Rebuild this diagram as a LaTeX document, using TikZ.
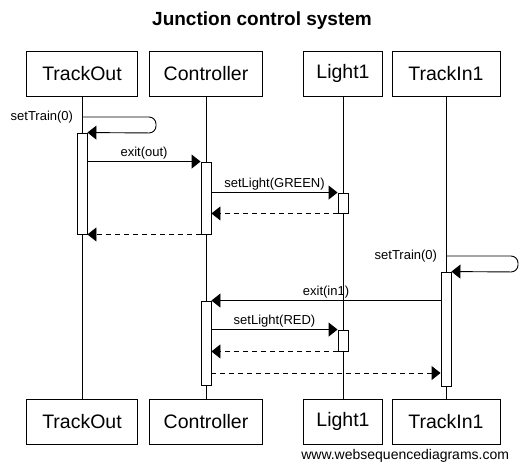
\documentclass[tikz,border=0pt]{standalone}
\usepackage{fontspec}
\setmainfont{Liberation Sans}
\usetikzlibrary{arrows.meta,positioning}

\begin{document}
\begin{tikzpicture}[x=1pt, y=-1pt, line width=0.9pt,
  >={Triangle[length=9pt,width=14pt]},
  obj/.style={draw, fill=white, minimum height=45pt, inner sep=0pt, font=\fontsize{19.5}{22}\selectfont},
  act/.style={draw, fill=white, minimum width=10pt, inner sep=0pt},
  msg/.style={->},
  ret/.style={->, dash pattern=on 5pt off 4pt},
  lbl/.style={font=\fontsize{13}{15}\selectfont, inner sep=1.5pt}]
\useasboundingbox (0,0) rectangle (529,469);
\node[font=\bfseries\fontsize{19}{22}\selectfont] (title) at (262,21) {Junction control system};
% participants
\node[obj, minimum width=111pt] (to) at (82,73.5) {TrackOut};
\node[obj, minimum width=113pt] (co) at (206,73.5) {Controller};
\node[obj, minimum width=79pt] (li) at (343,73.5) {Light1};
\node[obj, minimum width=108pt] (ti) at (446,73.5) {TrackIn1};
\node[obj, minimum width=111pt] (tob) at (82,421.5) {TrackOut};
\node[obj, minimum width=113pt] (cob) at (206,421.5) {Controller};
\node[obj, minimum width=79pt] (lib) at (343,421.5) {Light1};
\node[obj, minimum width=108pt] (tib) at (446,421.5) {TrackIn1};
\node[lbl, anchor=east, font=\fontsize{14}{16}\selectfont] (web) at (511,456) {www.websequencediagrams.com};
\draw (to) -- (tob); \draw (co) -- (cob);
\draw (li) -- (lib); \draw (ti) -- (tib);
% activations
\node[act, minimum height=101pt] (a1) at (82,183.5) {};
\node[act, minimum height=72pt] (c1) at (206,198) {};
\node[act, minimum height=20pt] (g1) at (343,203) {};
\node[act, minimum height=114pt] (t1) at (446,329) {};
\node[act, minimum height=84pt] (c2) at (206,343) {};
\node[act, minimum height=21pt] (r1) at (343,340.5) {};
\coordinate (s1) at (82,117);
\coordinate (s2) at (446,256);
\coordinate (d9) at (211,373);
% messages
\draw[msg, rounded corners=7pt] (s1) node[lbl, left=7pt] (l1) {setTrain(0)}
  -- ++(74,0) -- ++(0,16) -- (a1.north east);
\draw[msg] (a1.east |- c1.north) -- node[lbl, above] (l2) {exit(out)} (c1.north west);
\draw[msg] (c1.east |- g1.north) -- node[lbl, above] (l3) {setLight(GREEN)} (g1.north west);
\draw[ret] (g1.south west) -- (c1.east |- g1.south);
\draw[ret] (c1.south west) -- (a1.south east);
\draw[msg, rounded corners=7pt] (s2) node[lbl, left=7pt] (l4) {setTrain(0)}
  -- ++(72,0) -- ++(0,16) -- (t1.north east);
\draw[msg] (t1.west |- c2.north) -- node[lbl, above] (l5) {exit(in1)} (c2.north east);
\draw[msg] (c2.east |- r1.north) -- node[lbl, above] (l6) {setLight(RED)} (r1.north west);
\draw[ret] (r1.south west) -- (c2.east |- r1.south);
\draw[ret] (d9) -- (t1.west |- d9);
\end{tikzpicture}
\end{document}
